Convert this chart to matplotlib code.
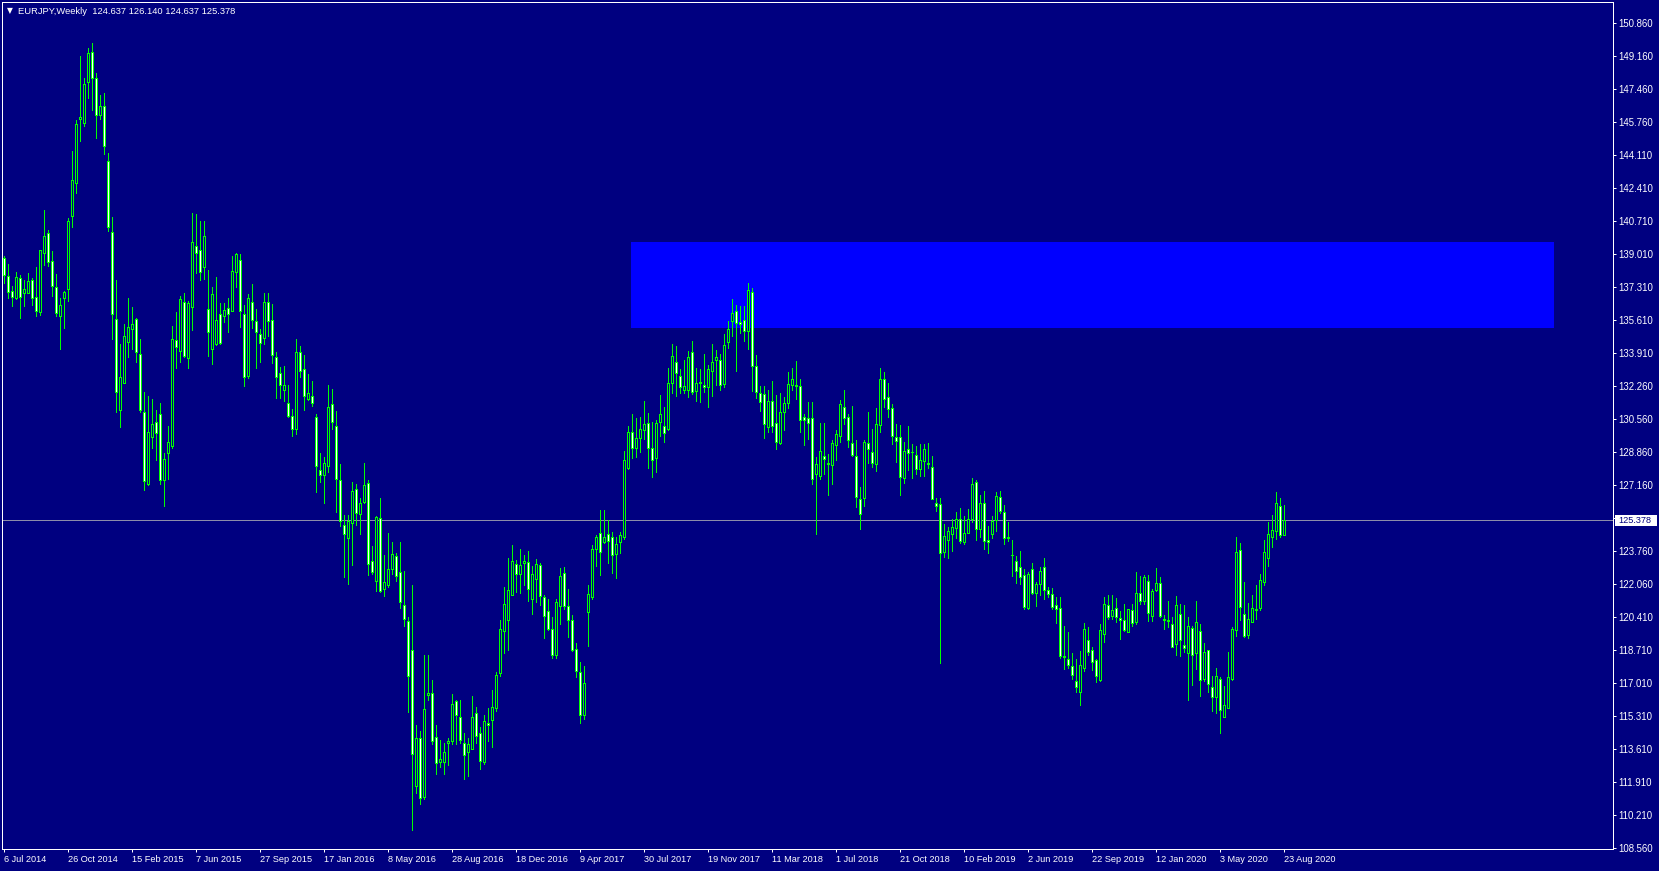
import numpy as np
import matplotlib
matplotlib.use("Agg")
import matplotlib.pyplot as plt
from matplotlib.patches import Rectangle

# EURJPY weekly candles, 6 Jul 2014 .. 23 Aug 2020 (one row per week)
opens = [138.81, 137.92, 137.14, 136.76, 137.79, 137.05, 137.05, 137.70, 136.81, 136.08,
         139.10, 140.09, 138.67, 137.32, 135.87, 136.76, 137.25, 141.00, 142.66, 145.97,
         145.77, 147.84, 149.37, 148.04, 146.14, 146.61, 143.78, 140.14, 135.68, 131.02,
         132.40, 134.50, 135.17, 135.70, 133.90, 130.91, 127.22, 129.67, 130.40, 130.83,
         127.44, 128.81, 129.20, 134.62, 134.08, 136.57, 133.72, 136.33, 139.43, 139.24,
         138.35, 136.20, 134.14, 134.40, 135.96, 135.87, 136.25, 136.13, 138.13, 138.73,
         135.96, 132.79, 136.57, 135.60, 134.93, 134.71, 136.59, 135.63, 133.73, 132.91,
         132.08, 131.37, 130.75, 130.08, 133.99, 133.12, 131.60, 131.73, 130.70, 127.98,
         127.68, 128.14, 131.32, 130.22, 127.45, 125.16, 124.45, 125.25, 126.99, 125.69,
         126.30, 127.28, 123.30, 122.28, 125.49, 121.84, 122.05, 122.90, 123.55, 122.75,
         121.01, 120.19, 118.71, 111.77, 114.24, 111.21, 116.40, 116.50, 114.28, 113.01,
         113.01, 113.94, 114.07, 116.10, 115.30, 113.98, 113.49, 113.66, 115.48, 114.46,
         113.01, 115.00, 115.13, 115.78, 117.56, 119.68, 120.25, 121.57, 123.16, 122.63,
         123.20, 123.25, 121.36, 122.37, 123.07, 121.45, 120.74, 119.81, 118.48, 120.96,
         122.68, 120.99, 120.26, 118.80, 117.61, 115.40, 120.68, 121.45, 123.93, 124.73,
         124.27, 124.67, 124.50, 123.67, 124.24, 124.50, 128.08, 129.88, 129.06, 129.61,
         130.00, 130.38, 129.06, 128.55, 130.43, 130.22, 130.05, 132.43, 133.47, 132.79,
         132.08, 132.08, 134.02, 132.02, 132.45, 132.31, 132.19, 133.04, 133.62, 133.62,
         132.39, 134.53, 135.61, 136.12, 135.52, 135.67, 135.09, 137.06, 133.30, 131.88,
         131.83, 130.14, 131.49, 130.39, 129.32, 130.91, 131.37, 132.31, 132.34, 132.26,
         130.65, 130.60, 130.60, 127.74, 127.64, 128.68, 128.34, 128.20, 129.23, 129.69,
         131.20, 130.65, 129.32, 128.69, 126.45, 126.50, 129.32, 128.86, 128.29, 130.26,
         132.60, 131.70, 131.16, 129.63, 129.66, 127.56, 129.01, 128.90, 128.75, 128.00,
         128.41, 128.30, 128.12, 126.24, 126.19, 123.73, 124.39, 124.65, 124.96, 125.47,
         124.27, 124.75, 125.44, 127.32, 124.91, 126.24, 124.39, 124.70, 125.39, 126.58,
         125.81, 124.45, 123.60, 123.30, 122.96, 122.57, 120.86, 122.86, 121.66, 122.09,
         122.96, 121.80, 121.59, 121.03, 120.86, 118.40, 118.26, 117.90, 117.13, 116.55,
         117.78, 119.23, 118.72, 118.21, 117.18, 119.57, 121.06, 120.46, 120.86, 120.39,
         120.26, 119.66, 120.77, 120.17, 121.66, 121.25, 122.28, 120.48, 121.80, 122.14,
         120.31, 120.24, 120.04, 119.06, 120.55, 118.98, 118.55, 119.88, 118.55, 119.71,
         117.23, 118.75, 116.84, 116.33, 117.22, 115.27, 115.78, 117.22, 119.75, 123.88,
         120.55, 119.49, 120.17, 120.80, 120.86, 122.19, 123.47, 124.53, 124.82, 126.12,
         124.637]

highs = [138.93, 138.50, 137.39, 138.09, 137.96, 137.70, 138.06, 137.79, 138.35, 139.24,
         141.29, 140.26, 139.19, 138.01, 136.76, 137.14, 140.86, 144.31, 145.90, 149.19,
         148.04, 149.58, 149.84, 148.33, 147.19, 147.29, 144.23, 140.95, 137.70, 134.42,
         135.44, 136.78, 136.33, 135.77, 134.67, 131.97, 131.75, 131.60, 131.03, 131.41,
         128.84, 130.21, 135.36, 136.06, 136.90, 137.03, 136.62, 141.15, 141.10, 140.73,
         140.73, 138.21, 137.36, 137.87, 136.54, 136.50, 136.79, 138.95, 139.10, 139.03,
         136.42, 136.98, 137.49, 136.21, 135.19, 137.05, 137.03, 136.47, 134.02, 133.25,
         133.28, 132.34, 131.11, 134.67, 134.32, 133.84, 132.87, 132.52, 130.81, 128.81,
         128.60, 132.34, 132.11, 130.98, 128.25, 125.63, 125.63, 127.35, 127.22, 126.52,
         128.32, 127.43, 124.08, 125.60, 126.52, 123.60, 124.72, 124.26, 123.69, 124.26,
         122.77, 120.42, 122.05, 114.86, 114.60, 118.48, 118.48, 117.21, 114.86, 114.10,
         113.98, 114.21, 116.45, 116.19, 116.15, 114.46, 114.24, 116.36, 115.83, 114.77,
         115.39, 115.74, 116.68, 117.60, 120.25, 121.96, 123.46, 124.13, 123.34, 123.90,
         123.60, 123.78, 123.04, 123.39, 123.21, 121.57, 121.34, 120.42, 121.34, 122.93,
         122.96, 121.88, 120.51, 119.11, 118.10, 117.90, 122.05, 124.10, 124.62, 125.90,
         125.90, 125.38, 124.79, 124.50, 124.79, 128.94, 130.20, 130.82, 130.60, 130.65,
         131.49, 130.90, 130.43, 130.51, 131.79, 131.20, 133.20, 134.44, 134.31, 133.13,
         133.59, 134.05, 134.56, 133.21, 133.16, 133.93, 133.33, 134.44, 134.10, 133.93,
         134.91, 135.59, 136.70, 136.41, 136.36, 136.36, 137.57, 137.30, 133.85, 132.26,
         132.26, 132.08, 132.51, 131.79, 131.88, 131.71, 132.99, 133.20, 133.54, 132.61,
         130.85, 131.45, 131.45, 128.63, 130.38, 130.39, 128.80, 129.52, 130.03, 131.57,
         132.05, 130.85, 131.23, 129.52, 127.06, 129.49, 130.91, 130.04, 131.16, 133.20,
         133.00, 132.40, 131.33, 130.34, 130.26, 129.37, 130.21, 129.28, 129.18, 129.28,
         129.28, 129.35, 128.67, 126.50, 126.50, 125.18, 125.04, 125.42, 125.81, 126.02,
         125.61, 125.98, 127.57, 127.44, 126.67, 126.87, 125.08, 125.59, 126.84, 126.87,
         126.16, 125.27, 124.36, 123.54, 123.80, 122.86, 122.74, 123.21, 122.22, 122.99,
         123.42, 121.97, 121.93, 121.45, 121.45, 119.97, 119.63, 118.55, 118.26, 118.69,
         120.09, 119.92, 118.89, 118.29, 120.05, 121.45, 121.54, 121.54, 121.37, 120.72,
         121.08, 120.81, 121.08, 122.74, 122.52, 122.57, 122.57, 121.88, 122.91, 122.45,
         120.52, 121.23, 120.43, 121.49, 121.11, 121.03, 120.40, 119.95, 121.23, 120.04,
         119.11, 118.75, 117.39, 117.83, 117.32, 116.89, 118.60, 119.92, 124.50, 124.19,
         122.19, 121.16, 121.54, 122.05, 122.65, 124.36, 125.27, 125.64, 126.84, 126.53,
         126.140]

lows = [137.53, 136.76, 136.37, 136.71, 135.77, 136.37, 137.02, 136.42, 135.87, 135.90,
        138.47, 138.42, 136.90, 135.87, 134.16, 135.25, 136.64, 140.43, 142.14, 144.84,
        145.61, 147.05, 146.42, 145.00, 145.97, 144.14, 140.23, 134.69, 130.95, 130.18,
        132.40, 133.73, 134.14, 133.48, 130.95, 126.93, 127.17, 129.07, 128.47, 127.25,
        126.11, 127.49, 129.07, 133.17, 133.51, 133.73, 133.17, 135.13, 138.04, 137.70,
        137.73, 133.82, 133.37, 134.37, 134.40, 135.56, 135.05, 136.13, 137.36, 135.31,
        132.28, 132.69, 135.25, 133.20, 133.48, 134.43, 134.85, 133.43, 131.63, 131.63,
        131.51, 130.67, 129.70, 129.82, 132.70, 131.05, 131.55, 131.25, 126.83, 127.36,
        126.25, 127.88, 130.05, 125.81, 125.07, 122.49, 122.10, 123.11, 125.16, 124.70,
        126.25, 122.58, 122.60, 121.75, 121.70, 121.52, 121.96, 122.63, 122.28, 120.90,
        119.95, 115.57, 109.48, 111.42, 110.85, 111.10, 116.19, 113.89, 112.39, 112.74,
        112.39, 112.83, 113.89, 113.89, 113.98, 112.13, 112.27, 113.66, 113.98, 112.62,
        112.88, 114.07, 113.75, 115.62, 117.37, 118.57, 118.75, 121.57, 121.70, 121.66,
        122.05, 121.26, 120.57, 121.18, 121.04, 119.36, 119.75, 118.31, 118.31, 120.07,
        120.85, 119.37, 118.67, 117.35, 115.00, 115.20, 118.94, 121.33, 123.04, 122.56,
        124.19, 123.20, 122.68, 122.43, 123.71, 124.44, 128.00, 128.55, 128.63, 128.89,
        129.57, 128.08, 127.61, 127.86, 129.71, 129.37, 130.00, 131.93, 131.76, 131.88,
        131.88, 131.71, 131.85, 131.50, 131.45, 131.97, 131.20, 131.76, 132.31, 132.05,
        132.19, 134.22, 134.82, 133.04, 134.99, 134.56, 134.15, 132.02, 131.66, 130.97,
        129.61, 129.88, 129.91, 129.01, 129.28, 130.03, 131.15, 132.08, 131.59, 129.91,
        129.26, 129.57, 127.23, 124.65, 127.47, 127.74, 126.70, 127.23, 128.46, 129.40,
        130.34, 129.14, 128.67, 126.07, 124.92, 126.12, 128.34, 128.09, 127.92, 129.90,
        131.20, 130.65, 129.27, 128.38, 126.67, 127.30, 127.98, 127.56, 127.73, 127.66,
        127.66, 128.04, 126.45, 125.85, 118.04, 123.51, 123.45, 123.80, 124.45, 124.22,
        124.14, 124.74, 125.30, 124.36, 124.53, 123.90, 123.71, 124.45, 124.84, 125.73,
        124.16, 124.31, 122.53, 122.14, 122.10, 120.82, 120.82, 121.59, 120.99, 121.57,
        121.33, 121.45, 120.82, 120.09, 118.34, 117.73, 117.78, 117.23, 116.58, 115.93,
        117.66, 118.46, 117.69, 117.10, 117.13, 119.15, 120.34, 120.34, 120.17, 119.28,
        119.69, 119.66, 119.95, 120.04, 121.11, 121.11, 120.22, 120.22, 121.75, 120.43,
        119.83, 119.92, 118.89, 118.46, 118.43, 118.64, 116.16, 116.93, 117.75, 116.38,
        117.15, 116.58, 115.61, 115.51, 114.45, 115.27, 115.78, 117.18, 119.46, 120.26,
        119.41, 119.35, 120.17, 120.31, 120.77, 122.05, 123.05, 124.02, 124.40, 124.50,
        124.637]

closes = [137.96, 137.10, 136.85, 137.84, 136.85, 137.22, 137.65, 136.76, 136.13, 139.24,
          139.94, 138.64, 137.41, 135.99, 136.40, 137.08, 140.71, 142.81, 145.68, 146.04,
          147.73, 149.32, 148.08, 146.18, 146.61, 144.59, 140.40, 135.94, 131.94, 132.71,
          134.83, 135.27, 135.44, 133.99, 131.02, 127.41, 129.89, 130.32, 129.84, 127.44,
          128.50, 129.37, 134.66, 134.28, 136.71, 133.80, 136.50, 139.63, 139.07, 138.13,
          139.96, 135.05, 136.96, 135.65, 134.45, 136.16, 135.94, 138.14, 139.03, 136.13,
          132.73, 136.78, 135.65, 135.05, 134.45, 136.59, 135.58, 133.84, 132.74, 132.32,
          132.34, 130.72, 130.08, 133.99, 133.01, 131.73, 131.90, 131.37, 128.14, 127.72,
          128.32, 131.20, 130.40, 127.49, 125.33, 124.66, 125.32, 126.90, 125.77, 126.29,
          127.17, 123.16, 122.72, 125.55, 121.75, 122.19, 122.86, 123.64, 122.54, 121.17,
          120.34, 117.42, 113.41, 114.24, 111.15, 115.69, 116.50, 114.07, 112.92, 113.13,
          113.49, 114.07, 115.97, 115.39, 114.10, 113.36, 113.93, 115.30, 114.33, 113.04,
          115.09, 114.90, 115.80, 117.47, 119.81, 121.08, 121.78, 123.29, 122.60, 123.11,
          123.30, 121.84, 122.63, 123.16, 121.48, 120.48, 119.81, 118.48, 121.17, 122.54,
          120.99, 120.26, 118.72, 117.66, 115.40, 117.06, 121.59, 123.93, 124.50, 123.73,
          124.50, 124.31, 123.59, 124.14, 124.62, 128.46, 129.88, 129.06, 129.61, 130.08,
          130.34, 129.11, 128.46, 130.38, 130.82, 129.83, 132.44, 133.81, 132.94, 132.22,
          132.26, 133.73, 131.97, 132.44, 132.41, 132.22, 133.11, 133.50, 133.76, 132.34,
          134.39, 135.21, 136.03, 135.47, 135.44, 135.08, 137.21, 133.30, 131.97, 131.45,
          130.29, 131.49, 130.22, 129.40, 130.94, 131.37, 132.39, 132.60, 132.27, 130.51,
          130.51, 130.39, 127.49, 128.29, 128.94, 128.51, 128.26, 129.35, 129.78, 131.33,
          130.60, 129.49, 128.75, 126.55, 125.68, 129.37, 129.01, 128.34, 130.29, 132.60,
          131.60, 131.08, 129.71, 129.45, 127.61, 128.94, 128.84, 128.86, 128.00, 128.46,
          129.01, 128.29, 126.45, 126.12, 123.68, 124.57, 124.82, 125.04, 125.47, 124.31,
          124.75, 125.47, 127.22, 124.91, 126.29, 124.31, 124.27, 125.34, 126.62, 125.85,
          124.45, 124.50, 123.58, 122.79, 122.48, 120.94, 122.65, 121.66, 122.10, 122.77,
          121.83, 121.62, 120.91, 120.85, 118.43, 118.36, 117.98, 117.44, 116.84, 117.95,
          119.78, 118.60, 118.12, 117.40, 119.75, 121.11, 120.43, 120.77, 120.43, 120.29,
          119.75, 120.81, 120.12, 121.66, 121.25, 122.45, 120.65, 121.76, 122.14, 120.48,
          120.29, 120.28, 118.89, 121.06, 119.23, 118.81, 119.97, 118.46, 120.17, 117.18,
          118.60, 116.96, 116.33, 117.40, 115.64, 115.90, 117.35, 119.78, 123.76, 120.94,
          119.46, 120.34, 120.86, 120.84, 122.34, 123.73, 124.70, 124.87, 126.24, 124.64,
          125.378]

date_labels = ["6 Jul 2014", "26 Oct 2014", "15 Feb 2015", "7 Jun 2015", "27 Sep 2015",
               "17 Jan 2016", "8 May 2016", "28 Aug 2016", "18 Dec 2016", "9 Apr 2017",
               "30 Jul 2017", "19 Nov 2017", "11 Mar 2018", "1 Jul 2018", "21 Oct 2018",
               "10 Feb 2019", "2 Jun 2019", "22 Sep 2019", "12 Jan 2020", "3 May 2020",
               "23 Aug 2020"]
price_labels = ["150.860", "149.160", "147.460", "145.760", "144.110", "142.410", "140.710",
                "139.010", "137.310", "135.610", "133.910", "132.260", "130.560", "128.860",
                "127.160", "", "123.760", "122.060", "120.410", "118.710", "117.010",
                "115.310", "113.610", "111.910", "110.210", "108.560"]

bid = 125.378
zone_weeks = (156.85, 387.6)     # blue zone, in weeks from 6 Jul 2014
zone_prices = (135.25, 139.63)

# ---- style
W, H = 1659, 871
BG = "#000080"
LIME = "#00FF00"
FONT = "Liberation Sans"
px = 72 / 100  # one pixel in points

o = np.array(opens); h = np.array(highs); l = np.array(lows); c = np.array(closes)
x = np.arange(len(o))

fig = plt.figure(figsize=(W / 100, H / 100), dpi=100, facecolor=BG)
ax = fig.add_axes([2.3 / W, 22 / H, (1613.3 - 2.3) / W, (849 - 2.3) / H])
ax.set_facecolor(BG)

# price -> pixel: 19.504 px per yen, 150.86 at y=23.3
ax.set_xlim(-0.325, 402.43)
ax.set_ylim(150.86 - (849 - 23.3) / 19.504, 150.86 + 21 / 19.504)

ax.add_patch(Rectangle((zone_weeks[0], zone_prices[0]), zone_weeks[1] - zone_weeks[0],
                       zone_prices[1] - zone_prices[0], facecolor="#0000FF",
                       edgecolor="none", zorder=1))
ax.axhline(bid, color="#8c8caa", lw=px, zorder=2)

ax.vlines(x, l, h, colors=LIME, lw=px, zorder=3, antialiased=False)
fills = np.where(c < o, "white", BG)
ax.bar(x, np.abs(c - o), bottom=np.minimum(o, c), width=0.5, color=fills,
       edgecolor=LIME, linewidth=px, zorder=4, antialiased=False)

for s in ax.spines.values():
    s.set_color("white")
    s.set_linewidth(px)

# axes ticks
ax.yaxis.tick_right()
ax.set_yticks([150.86 - k * 33 / 19.504 for k in range(len(price_labels))])
ax.set_yticklabels(price_labels)
ax.set_xticks(np.arange(0, 321, 16))
ax.set_xticklabels(date_labels)
ax.tick_params(axis="both", colors="white", length=3 * px, width=px, pad=3 * px)
ax.tick_params(axis="x", labelsize=6.6)
ax.tick_params(axis="y", pad=2.5 * px, labelsize=6.9)
for t in ax.get_xticklabels() + ax.get_yticklabels():
    t.set_fontfamily(FONT)
for t in ax.get_xticklabels():
    t.set_horizontalalignment("left")

# price label on the bid line
ybid = 23.3 + (150.86 - bid) * 19.504
fig.patches.append(Rectangle((1615 / W, 1 - (ybid + 5.5) / H), 42 / W, 11 / H,
                             transform=fig.transFigure, facecolor="white",
                             edgecolor="none", zorder=5))
fig.text(1618 / W, 1 - ybid / H, "125.378", color=BG, fontsize=6.6, family=FONT,
         va="center", ha="left", zorder=6)

# header
fig.text(9.5 / W, 1 - 11 / H, "\u25bc", color="white", fontsize=5.5, family="DejaVu Sans",
         va="center", ha="center")
fig.text(18.3 / W, 1 - 11 / H, "EURJPY,Weekly  124.637 126.140 124.637 125.378",
         color="white", fontsize=6.75, family=FONT, va="center", ha="left")

fig.savefig("out.png", dpi=100, facecolor=BG)
